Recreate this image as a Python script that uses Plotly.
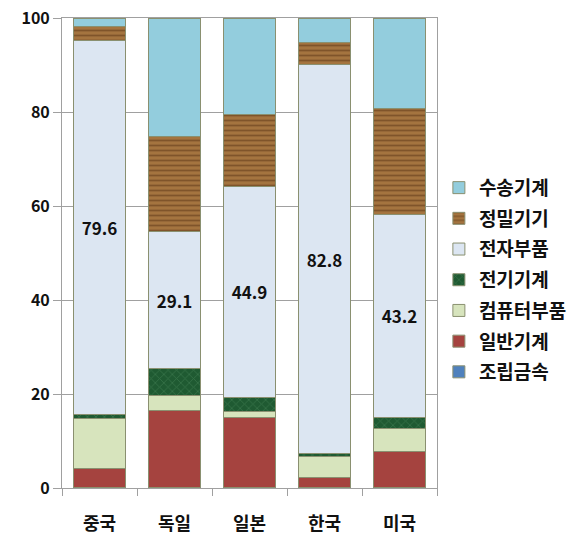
import plotly.graph_objects as go

countries = ["중국", "독일", "일본", "한국", "미국"]
series_names = ["조립금속", "일반기계", "컴퓨터부품", "전기기계", "전자부품", "정밀기기", "수송기계"]
assembled_metal = [0.2, 0.2, 0.2, 0.1, 0.2]
general_machinery = [3.9, 16.3, 14.8, 2.1, 7.6]
computer_parts = [10.6, 3.2, 1.3, 4.5, 4.8]
electrical_machinery = [0.9, 5.7, 3.0, 0.6, 2.4]
electronic_parts = [79.6, 29.1, 44.9, 82.8, 43.2]
precision_instruments = [3.0, 20.3, 15.2, 4.7, 22.5]
transport_equipment = [1.8, 25.2, 20.6, 5.2, 19.3]

values = [assembled_metal, general_machinery, computer_parts, electrical_machinery,
          electronic_parts, precision_instruments, transport_equipment]
colors = ["#4F81BD", "#A5433F", "#D7E4BD", "#1F5A32", "#DCE6F2", "#93633A", "#93CDDD"]
patterns = [None, None, None,
            dict(shape="x", fgcolor="#4E8A5E", bgcolor="#1F5A32", size=6, solidity=0.25),
            None,
            dict(shape="-", fgcolor="#5A3416", bgcolor="#A4743F", size=5, solidity=0.35),
            None]

FONT = "Noto Sans CJK KR"
fig = go.Figure()
for i, (name, vals) in enumerate(zip(series_names, values)):
    marker = dict(color=colors[i], line=dict(color="#8A9070", width=1))
    if patterns[i]:
        marker["pattern"] = patterns[i]
    kw = {}
    if name == "전자부품":
        kw = dict(text=[f"{v:.1f}" for v in vals], textposition="inside",
                  insidetextanchor="middle",
                  textfont=dict(family=FONT, size=17, color="#111111", weight="bold"))
    fig.add_trace(go.Bar(x=countries, y=vals, name=name, marker=marker,
                         legendgroup=name, legendrank=100 - i, hoverinfo="skip", **kw))

fig.update_layout(
    width=574, height=535, barmode="stack", bargap=0.31,
    margin=dict(l=62, r=137, t=18, b=47, autoexpand=False),
    plot_bgcolor="white", paper_bgcolor="white",
    font=dict(family=FONT, color="#111111"),
    showlegend=True,
    legend=dict(x=1.005, y=0.443, xanchor="left", yanchor="middle",
                traceorder="grouped", tracegroupgap=3,
                font=dict(family=FONT, size=19, color="#111111", weight="bold"),
                itemwidth=30),
    uniformtext=dict(mode=False),
)
fig.update_yaxes(range=[0, 100], tickvals=[0, 20, 40, 60, 80, 100],
                 showgrid=True, gridcolor="#A0A0A0", gridwidth=1,
                 showline=True, linecolor="#A0A0A0", linewidth=1, mirror=True,
                 ticks="outside", ticklen=8, tickcolor="#A0A0A0",
                 tickfont=dict(family=FONT, size=16, color="#111111", weight="bold"),
                 zeroline=False, automargin=False)
fig.update_xaxes(showline=True, linecolor="#A0A0A0", linewidth=1, mirror=True,
                 ticks="outside", ticklen=7, tickcolor="#A0A0A0", tickson="boundaries",
                 ticklabelstandoff=19, automargin=False,
                 tickfont=dict(family=FONT, size=18, color="#111111", weight="bold"))

fig.write_html("out.html")
